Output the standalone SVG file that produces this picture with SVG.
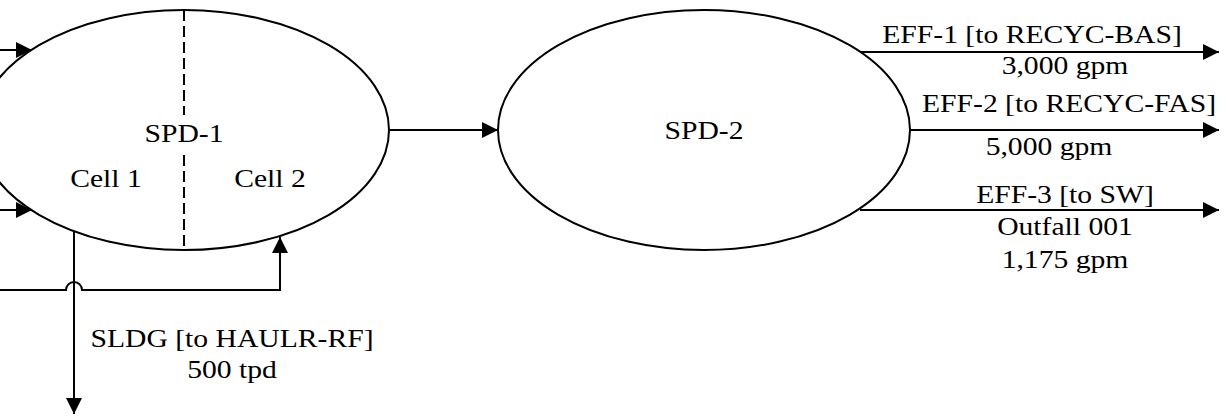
<svg xmlns="http://www.w3.org/2000/svg" width="1227" height="417" viewBox="0 0 1227 417">
<style>
.n{fill:#fff;stroke:#000;stroke-width:2}
.c{fill:none;stroke:#000;stroke-width:2}
.d{fill:none;stroke:#000;stroke-width:2;stroke-dasharray:11,5}
text{font-family:"Liberation Serif","Times New Roman",serif;font-size:26px;fill:#000;text-anchor:middle}
</style>
<defs>
<marker id="a" markerUnits="userSpaceOnUse" markerWidth="17" markerHeight="17" refX="16" refY="8" orient="auto">
<path d="M0,0 L16,8 L0,16 z" fill="#000"/>
</marker>
</defs>
<g id="spd1">
<ellipse class="n" cx="184" cy="130" rx="205" ry="120"/>
<path class="d" d="M184,10 V115 M184,155 V250"/>
<text transform="translate(184,142) scale(1.14,1)">SPD-1</text>
<text transform="translate(106,187) scale(1.14,1)">Cell 1</text>
<text transform="translate(270,187) scale(1.14,1)">Cell 2</text>
</g>
<g id="spd2">
<ellipse class="n" cx="704" cy="130" rx="206" ry="120"/>
<text transform="translate(704,139) scale(1.14,1)">SPD-2</text>
</g>
<g id="connectors">
<path class="c" d="M0,50 H32" marker-end="url(#a)"/>
<path class="c" d="M0,210 H32" marker-end="url(#a)"/>
<path class="c" d="M389,130 H498" marker-end="url(#a)"/>
<path class="c" d="M74,231 V414" marker-end="url(#a)"/>
<path class="c" d="M0,290 H66 A8,8 0 0 1 82,290 H280 V237" marker-end="url(#a)"/>
<path class="c" d="M860,52 H1219" marker-end="url(#a)"/>
<path class="c" d="M910,130 H1219" marker-end="url(#a)"/>
<path class="c" d="M860,210 H1219" marker-end="url(#a)"/>
</g>
<g id="labels">
<text transform="translate(232,347) scale(1.14,1)">SLDG [to HAULR-RF]</text>
<text transform="translate(232,378) scale(1.14,1)">500 tpd</text>
<text transform="translate(1032,43) scale(1.14,1)">EFF-1 [to RECYC-BAS]</text>
<text transform="translate(1065,74) scale(1.14,1)">3,000 gpm</text>
<text transform="translate(1069,112) scale(1.14,1)">EFF-2 [to RECYC-FAS]</text>
<text transform="translate(1049,155) scale(1.14,1)">5,000 gpm</text>
<text transform="translate(1065,203) scale(1.14,1)">EFF-3 [to SW]</text>
<text transform="translate(1065,235) scale(1.14,1)">Outfall 001</text>
<text transform="translate(1065,268) scale(1.14,1)">1,175 gpm</text>
</g>
</svg>
